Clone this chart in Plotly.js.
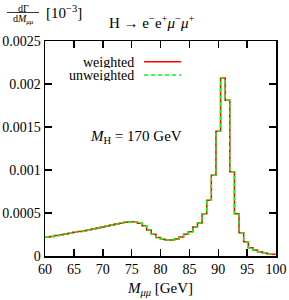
<!DOCTYPE html>
<html>
<head>
<meta charset="utf-8">
<script src="https://cdn.plot.ly/plotly-3.0.1.min.js"></script>
<style>html,body{margin:0;padding:0;background:#fff;}#chart{width:289px;height:300px;}</style>
</head>
<body>
<div id="chart"></div>
<script>
// Bin edges of the M_mumu histogram [GeV]
const binEdges = [60,60.8,61.6,62.4,63.2,64,64.8,65.6,66.4,67.2,68,68.8,69.6,70.4,71.2,72,72.8,73.6,74.4,75.2,76,76.8,77.6,78.4,79.2,80,80.8,81.6,82.4,83.2,84,84.8,85.6,86.4,87.2,88,88.8,89.6,90.4,91.2,92,92.8,93.6,94.4,95.2,96,96.8,97.6,98.4,99.2,100];
// dGamma/dM values per bin (axis units)
const weighted = [0.000218,0.000228,0.000237,0.000246,0.000255,0.000265,0.000275,0.000285,0.000295,0.000305,0.000315,0.000327,0.000338,0.000349,0.000360,0.000372,0.000382,0.000391,0.000398,0.000397,0.000380,0.000352,0.000302,0.000252,0.000216,0.000194,0.000186,0.000186,0.000198,0.000222,0.000253,0.000282,0.000338,0.000384,0.000492,0.000648,0.000940,0.001450,0.002070,0.001810,0.000980,0.000490,0.000270,0.000166,0.000096,0.000070,0.000050,0.000038,0.000027,0.000020];
const unweighted = [0.000218,0.000228,0.000237,0.000246,0.000255,0.000265,0.000275,0.000285,0.000295,0.000305,0.000315,0.000327,0.000338,0.000349,0.000360,0.000372,0.000382,0.000391,0.000398,0.000397,0.000380,0.000352,0.000302,0.000252,0.000216,0.000194,0.000186,0.000186,0.000198,0.000222,0.000253,0.000282,0.000338,0.000384,0.000492,0.000648,0.000940,0.001450,0.002070,0.001810,0.000980,0.000490,0.000270,0.000166,0.000096,0.000070,0.000050,0.000038,0.000027,0.000020];
const xTicks = [60,65,70,75,80,85,90,95,100];
const yTickVals = [0,0.0005,0.001,0.0015,0.002,0.0025];
const yTickText = ["0","0.0005","0.001","0.0015","0.002","0.0025"];
const seriesNames = ["weighted","unweighted"];

function stepY(v){ return v.concat([v[v.length-1]]); }

const FONT = "Liberation Serif, DejaVu Serif, serif";

const traces = [
  {x: binEdges, y: stepY(weighted), type:'scatter', mode:'lines', line:{shape:'hv', color:'#ff0000', width:1.5}, name:seriesNames[0], showlegend:false},
  {x: binEdges, y: stepY(unweighted), type:'scatter', mode:'lines', line:{shape:'hv', color:'#00ff00', width:1.5, dash:'4px,3px'}, name:seriesNames[1], showlegend:false}
];

const axisCommon = {showline:true, linecolor:'#000', linewidth:1.5, mirror:'ticks', ticks:'inside', ticklen:7, tickwidth:1.5, tickcolor:'#000', showgrid:false, zeroline:false, tickfont:{family:FONT, size:14, color:'#000'}};

const layout = {
  width:289, height:300,
  margin:{l:45, r:13, t:41, b:44},
  paper_bgcolor:'#fff', plot_bgcolor:'#fff',
  font:{family:FONT, color:'#000', size:14},
  xaxis: Object.assign({}, axisCommon, {range:[60,100], tickvals:xTicks, ticktext:xTicks.map(String),
     title:{text:'<i>M</i><sub><i>μμ</i></sub> [GeV]', font:{family:FONT, size:15}, standoff:6}}),
  yaxis: Object.assign({}, axisCommon, {range:[0,0.0025], tickvals:yTickVals, ticktext:yTickText}),
  annotations:[
    {xref:'paper', yref:'paper', x:0.394, y:0.903, text:seriesNames[0], showarrow:false, xanchor:'right', yanchor:'middle', height:12, font:{family:FONT, size:14}},
    {xref:'paper', yref:'paper', x:0.394, y:0.842, text:seriesNames[1], showarrow:false, xanchor:'right', yanchor:'middle', height:12, font:{family:FONT, size:14}},
    {xref:'paper', yref:'paper', x:0.394, y:0.555, text:'<i>M</i><sub>H</sub> = 170 GeV', showarrow:false, xanchor:'center', yanchor:'middle', font:{family:FONT, size:15}},
    {xref:'paper', yref:'paper', x:0.463, y:1.088, text:'H → e<sup>−</sup>e<sup>+</sup><i>μ</i><sup>−</sup><i>μ</i><sup>+</sup>', showarrow:false, xanchor:'center', yanchor:'middle', font:{family:FONT, size:15}},
    {xref:'paper', yref:'paper', x:-0.095, y:1.153, text:'dΓ', showarrow:false, xanchor:'center', yanchor:'middle', font:{family:FONT, size:10}},
    {xref:'paper', yref:'paper', x:-0.095, y:1.100, text:'d<i>M</i><sub><i>μμ</i></sub>', showarrow:false, xanchor:'center', yanchor:'middle', font:{family:FONT, size:10}},
    {xref:'paper', yref:'paper', x:0.082, y:1.135, text:'[10<sup>−3</sup>]', showarrow:false, xanchor:'center', yanchor:'middle', font:{family:FONT, size:15}}
  ],
  shapes:[
    {type:'line', xref:'paper', yref:'paper', x0:0.429, x1:0.589, y0:0.904, y1:0.904, line:{color:'#ff0000', width:1.5}},
    {type:'line', xref:'paper', yref:'paper', x0:0.429, x1:0.589, y0:0.842, y1:0.842, line:{color:'#00ff00', width:1.5, dash:'4px,3px'}},
    {type:'line', xref:'paper', yref:'paper', x0:-0.1645, x1:-0.026, y0:1.1326, y1:1.1326, line:{color:'#000', width:0.8}}
  ]
};

Plotly.newPlot('chart', traces, layout, {displayModeBar:false, staticPlot:true});
</script>
</body>
</html>
